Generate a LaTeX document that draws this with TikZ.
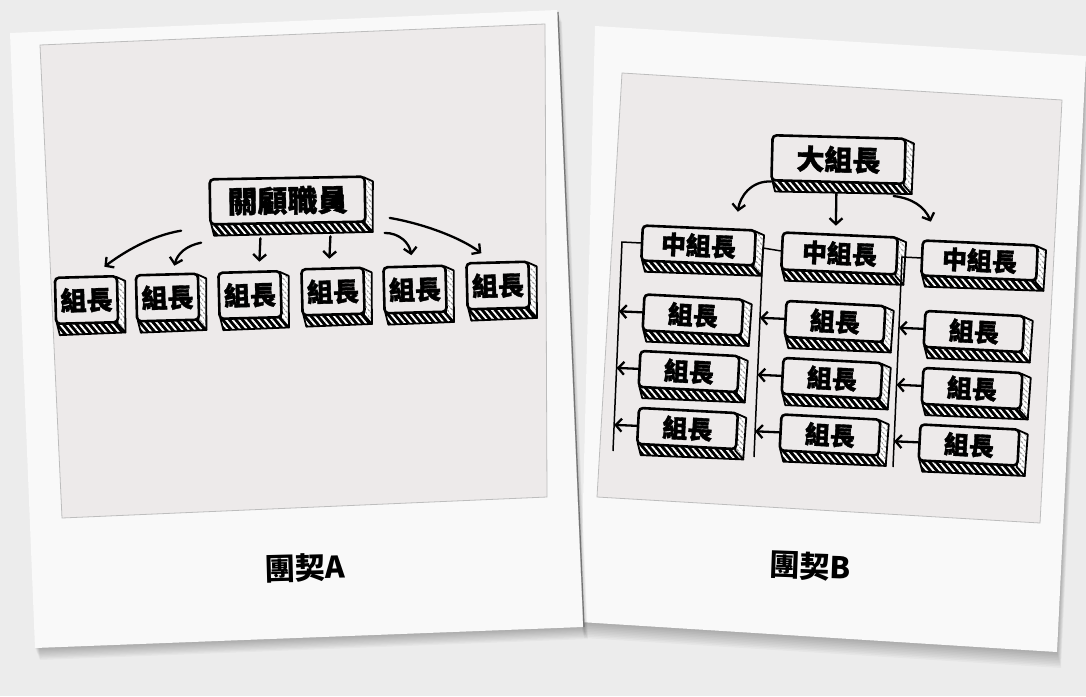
\documentclass[tikz,border=0pt]{standalone}
\usepackage{fontspec}
\newfontfamily\cjk{Noto Sans CJK TC}
\newfontfamily\cjkbox{Noto Sans CJK TC}[BoldFeatures={FakeBold=1.4}]
\usetikzlibrary{arrows.meta,calc,patterns.meta}
\definecolor{bgc}{HTML}{ECECEC}
\definecolor{framec}{HTML}{F9F9F9}
\definecolor{photoc}{HTML}{EDEAEA}
\definecolor{edgec}{HTML}{BDBDBD}
\pgfdeclarelayer{frames}
\pgfdeclarelayer{strips}
\pgfsetlayers{frames,strips,main}
\tikzset{
  skface/.style={draw=black, line width=2.6pt, rounded corners=4pt, fill=photoc, inner sep=0pt,
    font=\cjkbox\bfseries\fontsize{25}{25}\selectfont, text=black},
  skstrip/.style={fill=black, postaction={pattern={Lines[angle=-50,distance=5pt,line width=1.8pt]}, pattern color=white},
    postaction={draw=black, line width=1.8pt, line join=round}},
  skside/.style={fill=white, postaction={pattern={Lines[angle=-50,distance=4pt,line width=0.8pt]}, pattern color=black},
    postaction={draw=black, line width=1.8pt, line join=round}},
  skarrow/.style={line width=2.3pt, -{Straight Barb[length=6pt,width=13pt,line width=2.3pt]}, line cap=round},
  skline/.style={line width=1.5pt},
  caption/.style={font=\cjk\bfseries\fontsize{30}{30}\selectfont, text=black},
  framefill/.style={fill=framec},
  photofill/.style={fill=photoc, draw=edgec, line width=0.8pt},
}
\newcommand\skb[6]{%
  \node[skface, minimum width=#3pt, minimum height=#4pt, rotate=#5] (#1) at (#2) {#6};
  \begin{pgfonlayer}{strips}
    \path[skstrip] ($(#1.south west)+(2,-2)$) -- ($(#1.south east)+(0,-2)$) -- ($(#1.south east)+(6,9)$) -- ($(#1.south west)+(5,10)$) -- cycle;
    \path[skside] ($(#1.north east)+(-2,2)$) -- ($(#1.north east)+(7,6)$) -- ($(#1.south east)+(6,9)$) -- ($(#1.south east)+(-2,0)$) -- cycle;
  \end{pgfonlayer}
}
\begin{document}
\begin{tikzpicture}[x=1pt,y=-1pt]
\useasboundingbox (0,0) rectangle (1086,696);
\begin{pgfonlayer}{frames}
  \fill[bgc] (0,0) rectangle (1086,696);
  % frame B with shadow
  \foreach \i in {1,...,10}{
    \fill[black, opacity=0.028] ($(595,26)+(\i*0.4,\i*1.6)$) -- ($(1086,56)+(\i*0.4,\i*1.6)$) -- ($(1057,652)+(\i*0.4,\i*1.6)$) -- ($(580,622)+(\i*0.4,\i*1.6)$) -- cycle;
  }
  \path[framefill] (595,26) -- (1086,56) -- (1057,652) -- (580,622) -- cycle;
  \path[photofill] (622,73) -- (1062,100) -- (1040,523) -- (597,497) -- cycle;
  % frame A with shadow
  \foreach \i in {1,...,10}{
    \fill[black, opacity=0.028] ($(10,33)+(\i*0.5,\i*1.2)$) -- ($(557,10)+(\i*0.5,\i*1.2)$) -- ($(583,627)+(\i*0.5,\i*1.2)$) -- ($(35,648)+(\i*0.5,\i*1.2)$) -- cycle;
  }
  \draw[black!55, line width=1.2pt] (558,12) -- (584,627);
  \path[framefill] (10,33) -- (557,10) -- (583,627) -- (35,648) -- cycle;
  \path[photofill] (40,45) -- (545,24) -- (547,497) -- (62,518) -- cycle;
\end{pgfonlayer}

% ---------- Group A ----------
\skb{top}{287.5,200.5}{155}{45}{1}{\fontsize{30}{30}\selectfont 關顧職員}
\skb{a1}{86.5,300}{62}{46}{1.5}{\fontsize{26}{26}\selectfont 組長}
\skb{a2}{167.5,297.5}{62}{46}{1.5}{\fontsize{26}{26}\selectfont 組長}
\skb{a3}{250,295}{62}{46}{1.5}{\fontsize{26}{26}\selectfont 組長}
\skb{a4}{333,291.5}{62}{46}{1.5}{\fontsize{26}{26}\selectfont 組長}
\skb{a5}{415,289.5}{62}{46}{1.5}{\fontsize{26}{26}\selectfont 組長}
\skb{a6}{498,285.5}{62}{46}{1.5}{\fontsize{26}{26}\selectfont 組長}

\draw[skarrow] ($(top.south west)+(-28,5)$) .. controls +(-30,5) and +(20,-15) .. ($(a1.north)+(18.5,-9)$);
\draw[skarrow] ($(top.south west)+(-8,17)$) .. controls +(-15,3) and +(3,-12) .. ($(a2.north)+(7.5,-7.5)$);
\draw[skarrow] ($(top.south)+(-27.5,14)$) -- ($(a3.north)+(10,-9)$);
\draw[skarrow] ($(top.south)+(42.5,12)$) -- ($(a4.north)+(-3,-8.5)$);
\draw[skarrow] ($(top.south east)+(18,10)$) .. controls +(15,0) and +(-2,-12) .. ($(a5.north)+(-3,-10)$);
\draw[skarrow] ($(top.south east)+(23,-5)$) .. controls +(35,6) and +(-20,-15) .. ($(a6.north)+(-16,-8)$);

\node[caption, rotate=1.5] (capA) at (305,568) {團契A};

% ---------- Group B ----------
\skb{big}{838.5,159.5}{133}{45}{-1.5}{\fontsize{28}{28}\selectfont 大組長}
\skb{m1}{698.5,245.5}{113}{35}{-2.5}{中組長}
\skb{m2}{839.5,253.5}{115}{37}{-2.5}{中組長}
\skb{m3}{979.5,260.5}{115}{35}{-2.5}{中組長}

\draw[skarrow] ($(big.south west)+(1,0)$) .. controls +(-20,-1) and +(2,-15) .. ($(m1.north)+(38.5,-15)$);
\draw[skarrow] ($(big.south)+(-1.5,10)$) -- ($(m2.north)+(-4.5,-8)$);
\draw[skarrow] ($(big.south east)+(-12,11)$) .. controls +(18,2) and +(-6,-15) .. ($(m3.north)+(-49.5,-20)$);

\coordinate (l1t) at (622,242);
\coordinate (l1b) at (613,451);
\coordinate (l2t) at (763,248);
\coordinate (l2b) at (754,457);
\coordinate (l3t) at (902,257);
\coordinate (l3b) at (893,467);
\draw[skline] (m1.west) -- (l1t) -- (l1b);
\draw[skline] (m2.west) -- (l2t) -- (l2b);
\draw[skline] (m3.west) -- (l3t) -- (l3b);

\skb{b11}{693,315}{99}{36}{-3}{組長}
\skb{b12}{689,371.5}{99}{36}{-3}{組長}
\skb{b13}{687.5,428.5}{99}{36}{-3}{組長}
\skb{b21}{835,321.5}{99}{36}{-3}{組長}
\skb{b22}{832,378.5}{99}{36}{-3}{組長}
\skb{b23}{830,435}{99}{36}{-3}{組長}
\skb{b31}{974,331.5}{99}{36}{-3}{組長}
\skb{b32}{972,388.5}{99}{36}{-3}{組長}
\skb{b33}{969,445}{99}{36}{-3}{組長}

\foreach \c in {1,2,3}{
  \foreach \r in {1,2,3}{
    \draw[skarrow] (b\c\r.west) -- ($(l\c t)!(b\c\r.west)!(l\c b)$);
  }
}

\node[caption, rotate=-2] (capB) at (810,566) {團契B};
\end{tikzpicture}
\end{document}
